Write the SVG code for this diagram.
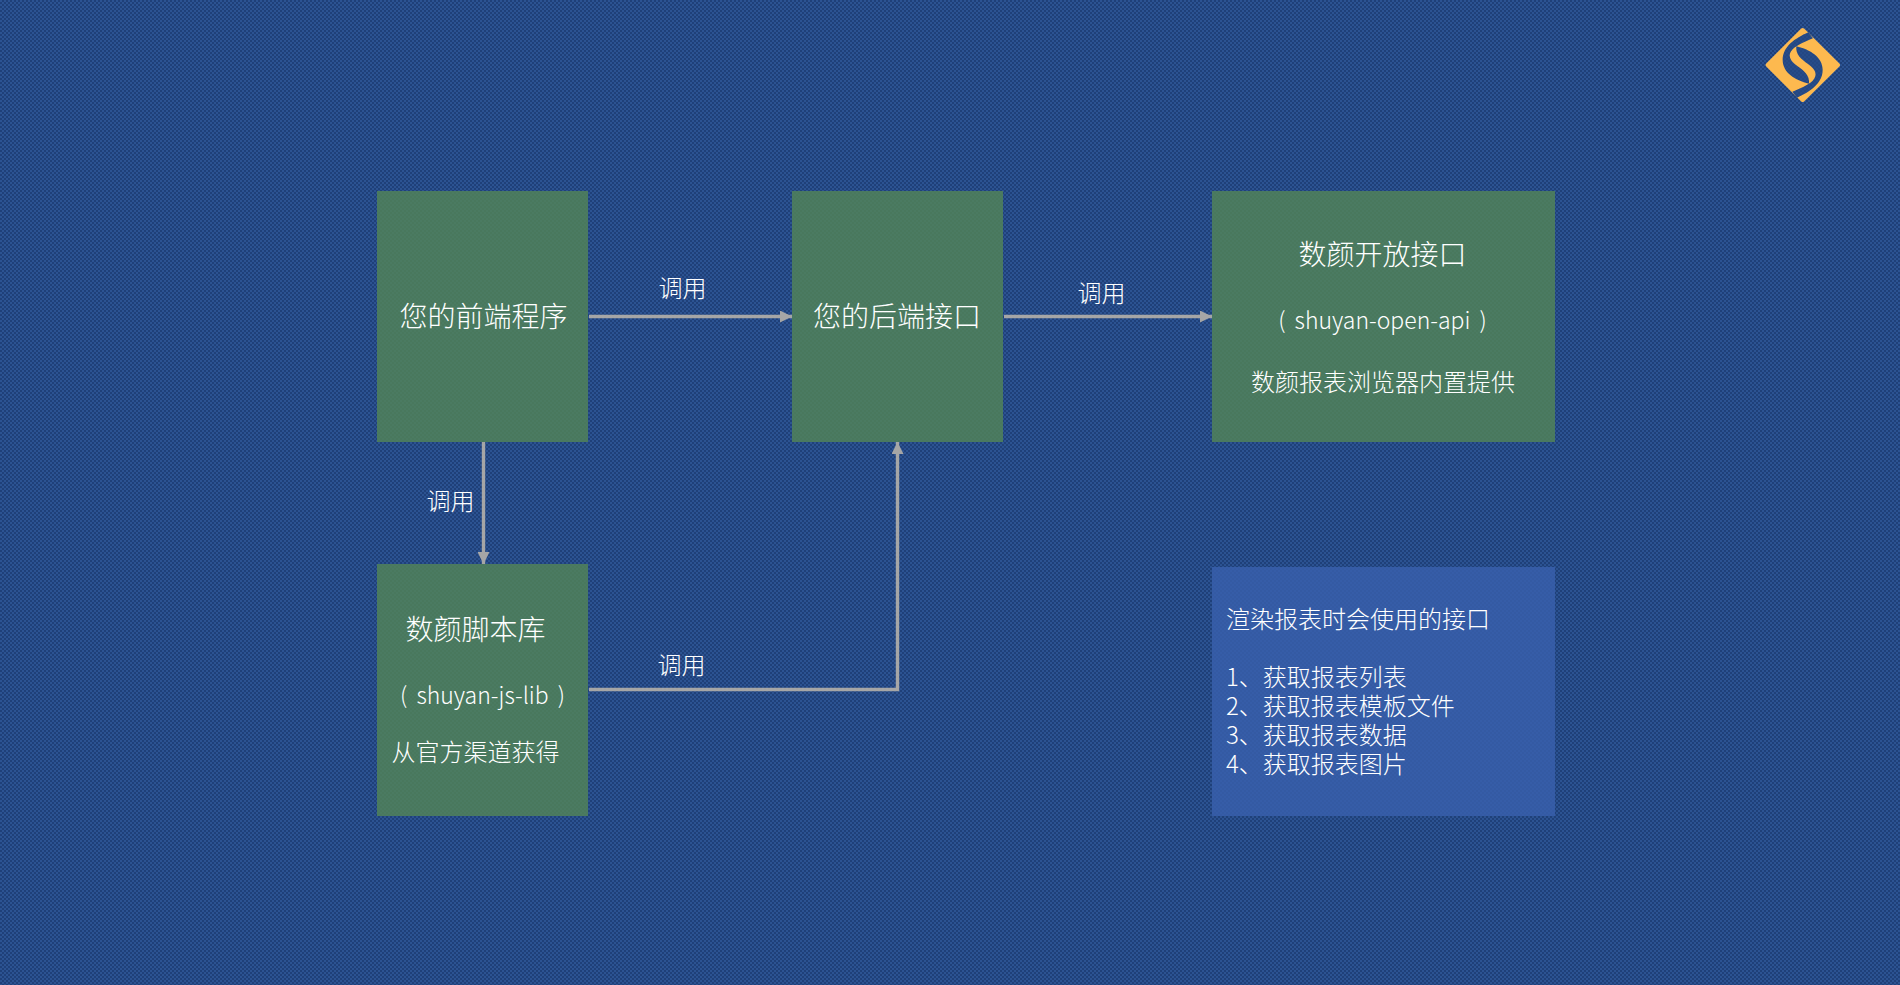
<svg xmlns="http://www.w3.org/2000/svg" xmlns:xlink="http://www.w3.org/1999/xlink" width="1900" height="985" viewBox="0 0 1900 985">
<style>
text{font-family:"Noto Sans CJK SC","Noto Sans",sans-serif;fill:#fff;font-weight:300}
.m{text-anchor:middle}
.t28{font-size:28px}.t24{font-size:24px}
.lat{font-size:23px;word-spacing:4px}
.box{fill:#548656;fill-opacity:.8}
.note{fill:#3a60ae;fill-opacity:.8}
.c{fill:none;stroke:#a6a6a6;stroke-width:3.400;marker-end:url(#a)}
</style>
<defs>
<pattern id="bg" width="4" height="4" patternUnits="userSpaceOnUse">
<rect width="4" height="4" fill="#1f4079"/>
<rect width="2" height="2" fill="#2c5392"/>
<rect x="2" y="2" width="2" height="2" fill="#2c5392"/>
</pattern>
<marker id="a" viewBox="0 0 12 12" markerUnits="userSpaceOnUse" markerWidth="12" markerHeight="12" refX="12" refY="6" orient="auto"><path d="M0,0L12,6L0,12Z" fill="#a6a6a6"/></marker>
<path id="stripe" d="M205,67C165,85 128,110 128,150C128,188 165,211 207,221C210,196 192,182 172,168C150,153 141,135 158,118C172,104 200,93 219,85Z" fill="url(#bg)"/>
</defs>
<rect id="background" width="1900" height="985" fill="url(#bg)"/>
<g id="logo" transform="translate(1740 10) scale(.3333)">
<path d="M188,60L294,165L188,270L83,165Z" fill="#fdb94f" stroke="#fdb94f" stroke-width="12" stroke-linejoin="round"/>
<use xlink:href="#stripe" href="#stripe"/>
<use xlink:href="#stripe" href="#stripe" transform="rotate(180 188 165)"/>
</g>
<g id="connectors">
<path class="c" d="M589,316.500H792"/>
<path class="c" d="M1004,316.500H1212"/>
<path class="c" d="M483.500,442V564"/>
<path class="c" d="M589,689.500H897.500V442"/>
<text class="m t24" x="682.500" y="297">调用</text>
<text class="m t24" x="1101.500" y="302">调用</text>
<text class="m t24" x="450.500" y="510">调用</text>
<text class="m t24" x="681.500" y="674">调用</text>
</g>
<g id="frontend"><rect class="box" x="377" y="191" width="211" height="251"/><text class="m t28" x="483.500" y="327">您的前端程序</text></g>
<g id="backend"><rect class="box" x="792" y="191" width="211" height="251"/><text class="m t28" x="897" y="327">您的后端接口</text></g>
<g id="openapi"><rect class="box" x="1212" y="191" width="343" height="251"/>
<text class="m t28" x="1382.500" y="265">数颜开放接口</text>
<text class="m lat" x="1382.500" y="329">( shuyan-open-api )</text>
<text class="m t24" x="1383" y="391">数颜报表浏览器内置提供</text></g>
<g id="jslib"><rect class="box" x="377" y="564" width="211" height="252"/>
<text class="m t28" x="475.500" y="640">数颜脚本库</text>
<text class="m lat" x="482.500" y="704">( shuyan-js-lib )</text>
<text class="m t24" x="475.500" y="761">从官方渠道获得</text></g>
<g id="note"><rect class="note" x="1212" y="567" width="343" height="249"/>
<text class="t24" x="1226" y="628">渲染报表时会使用的接口</text>
<text class="t24" x="1226" y="686">1、获取报表列表</text>
<text class="t24" x="1226" y="715">2、获取报表模板文件</text>
<text class="t24" x="1226" y="744">3、获取报表数据</text>
<text class="t24" x="1226" y="773">4、获取报表图片</text></g>
</svg>
